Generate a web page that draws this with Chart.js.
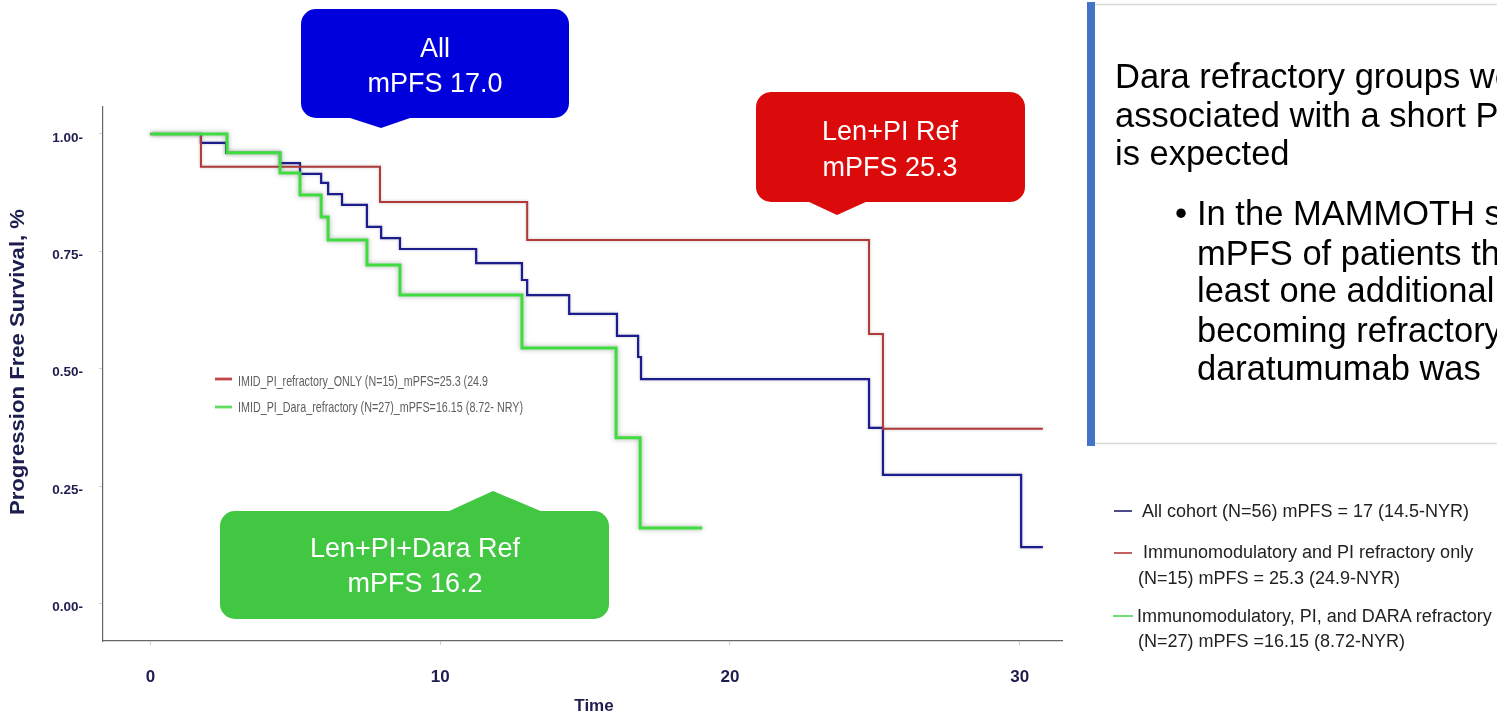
<!DOCTYPE html>
<html>
<head>
<meta charset="utf-8">
<script src="https://cdn.jsdelivr.net/npm/chart.js@4.4.1/dist/chart.umd.min.js"></script>
<style>
  html, body { margin: 0; padding: 0; width: 1497px; height: 714px; overflow: hidden; background: #fff; }
  #wrap { position: absolute; left: 0; top: 0; width: 1080px; height: 714px; }
  #ann { position: absolute; left: 0; top: 0; }
</style>
</head>
<body>
<div id="wrap"><canvas id="km" width="1080" height="714"></canvas></div>

<svg id="ann" width="1497" height="714" xmlns="http://www.w3.org/2000/svg">
  <defs>
    <filter id="soft" x="-5%" y="-20%" width="110%" height="140%">
      <feGaussianBlur stdDeviation="0.45"/>
    </filter>
    <filter id="glow" x="-20%" y="-100%" width="140%" height="300%">
      <feGaussianBlur stdDeviation="1.2"/>
    </filter>
  </defs>

  <!-- axis titles -->
  <g font-family="Liberation Sans, Arial, sans-serif" font-weight="bold" fill="#1d1d4f" text-anchor="middle">
    <text transform="translate(24,362) rotate(-90)" font-size="20" textLength="306" lengthAdjust="spacingAndGlyphs">Progression Free Survival, %</text>
    <text x="594" y="711" font-size="17">Time</text>
  </g>

  <!-- callouts -->
  <g font-family="Liberation Sans, Arial, sans-serif" font-size="27" fill="#ffffff" text-anchor="middle">
    <rect x="301" y="9" width="268" height="109" rx="15" fill="#0000DC"/>
    <polygon points="347,117 413,117 381,128" fill="#0000DC"/>
    <text x="435" y="57">All</text>
    <text x="435" y="92">mPFS 17.0</text>

    <rect x="756" y="92" width="269" height="110" rx="15" fill="#DB0B0B"/>
    <polygon points="807,201 868,201 837,215" fill="#DB0B0B"/>
    <text x="890" y="140">Len+PI Ref</text>
    <text x="890" y="176">mPFS 25.3</text>

    <rect x="220" y="511" width="389" height="108" rx="15" fill="#41C742"/>
    <polygon points="447,512 543,512 493,491" fill="#41C742"/>
    <text x="415" y="557">Len+PI+Dara Ref</text>
    <text x="415" y="592">mPFS 16.2</text>
  </g>

  <!-- in-plot legend -->
  <g>
    <line x1="215" y1="379" x2="232" y2="379" stroke="#bbbbbb" stroke-width="5" filter="url(#glow)"/>
    <line x1="215" y1="379" x2="232" y2="379" stroke="#c24444" stroke-width="2.8"/>
    <line x1="215" y1="407" x2="232" y2="407" stroke="#bbbbbb" stroke-width="5" filter="url(#glow)"/>
    <line x1="215" y1="407" x2="232" y2="407" stroke="#62dc62" stroke-width="2.8"/>
    <g font-family="Liberation Sans Narrow, Arial Narrow, Liberation Sans, sans-serif" font-size="15" fill="#5e5e5e" filter="url(#soft)">
      <text x="238" y="386" textLength="250" lengthAdjust="spacingAndGlyphs">IMID_PI_refractory_ONLY (N=15)_mPFS=25.3 (24.9</text>
      <text x="238" y="412" textLength="285" lengthAdjust="spacingAndGlyphs">IMID_PI_Dara_refractory (N=27)_mPFS=16.15 (8.72- NRY)</text>
    </g>
  </g>

  <!-- side panel -->
  <rect x="1087" y="2" width="8" height="444" fill="#4472C4"/>
  <line x1="1095" y1="4.5" x2="1497" y2="4.5" stroke="#d9d9d9" stroke-width="1.5"/>
  <line x1="1095" y1="443.5" x2="1497" y2="443.5" stroke="#d9d9d9" stroke-width="1.5"/>
  <g font-family="Liberation Sans, Arial, sans-serif" font-size="34.5" fill="#000000">
    <text x="1115" y="88">Dara refractory groups were</text>
    <text x="1115" y="127">associated with a short PFS, as</text>
    <text x="1115" y="165">is expected</text>
    <text x="1175" y="225">•</text>
    <text x="1197" y="225">In the MAMMOTH study, the</text>
    <text x="1197" y="265">mPFS of patients that had</text>
    <text x="1197" y="302">least one additional line</text>
    <text x="1197" y="342">becoming refractory to</text>
    <text x="1197" y="380">daratumumab was</text>
  </g>

  <!-- side legend -->
  <g font-family="Liberation Sans, Arial, sans-serif" font-size="18" fill="#222222">
    <line x1="1114" y1="511" x2="1132" y2="511" stroke="#1f1f6e" stroke-width="1.6"/>
    <text x="1142" y="517">All cohort (N=56) mPFS = 17 (14.5-NYR)</text>
    <line x1="1114" y1="553" x2="1132" y2="553" stroke="#b33a3a" stroke-width="1.6"/>
    <text x="1143" y="558">Immunomodulatory and PI refractory only</text>
    <text x="1138" y="584">(N=15) mPFS = 25.3 (24.9-NYR)</text>
    <line x1="1113" y1="616" x2="1133" y2="616" stroke="#4cd64c" stroke-width="1.6"/>
    <text x="1137" y="622">Immunomodulatory, PI, and DARA refractory</text>
    <text x="1138" y="647">(N=27) mPFS =16.15 (8.72-NYR)</text>
  </g>
</svg>

<script>
// Kaplan-Meier step points (time in months, survival fraction)
const allTimes = [0, 1.74, 2.61, 4.47, 5.16, 5.89, 6.13, 6.61, 7.47, 7.96, 8.61, 11.24, 12.82, 13.0, 14.45, 16.1, 16.83, 16.93, 24.8, 25.28, 30.05, 30.8];
const allSurv  = [1, 0.981, 0.960, 0.938, 0.915, 0.896, 0.872, 0.849, 0.802, 0.778, 0.755, 0.725, 0.689, 0.657, 0.617, 0.570, 0.525, 0.478, 0.374, 0.274, 0.120, 0.120];

const imidPiTimes = [0, 1.74, 7.92, 13.0, 24.8, 25.28, 30.8];
const imidPiSurv  = [1, 0.930, 0.855, 0.774, 0.574, 0.372, 0.372];

const daraTimes = [0, 2.64, 4.47, 5.16, 5.89, 6.13, 7.47, 8.61, 12.82, 16.07, 16.9, 19.04];
const daraSurv  = [1, 0.960, 0.917, 0.870, 0.823, 0.774, 0.721, 0.657, 0.544, 0.353, 0.161, 0.161];

const xTicks = [0, 10, 20, 30];
const yTicks = [0, 0.25, 0.5, 0.75, 1];

const toPoints = (ts, ss) => ts.map((t, i) => ({ x: t, y: ss[i] }));

const axisText = '#1d1d4f';
const boldFont = (size) => ({ family: 'Liberation Sans, Arial, sans-serif', size: size, weight: 'bold' });

// soft halo drawn behind each curve
const haloPlugin = {
  id: 'halo',
  beforeDatasetDraw(chart, args) {
    const ds = chart.data.datasets[args.index];
    const c = chart.ctx;
    c.save();
    c.shadowColor = ds.haloColor;
    c.shadowBlur = ds.haloBlur;
  },
  afterDatasetDraw(chart) {
    chart.ctx.restore();
  }
};

new Chart(document.getElementById('km'), {
  type: 'line',
  data: {
    datasets: [
      {
        label: 'IMID_PI_Dara_refractory',
        data: toPoints(daraTimes, daraSurv),
        borderColor: '#3fdc3f',
        borderWidth: 3,
        stepped: true,
        order: 0,
        haloColor: 'rgba(80,100,80,0.55)',
        haloBlur: 5
      },
      {
        label: 'IMID_PI_refractory_ONLY',
        data: toPoints(imidPiTimes, imidPiSurv),
        borderColor: '#b03a3a',
        borderWidth: 2,
        stepped: true,
        order: 1,
        haloColor: 'rgba(120,100,100,0.4)',
        haloBlur: 3
      },
      {
        label: 'All cohort',
        data: toPoints(allTimes, allSurv),
        borderColor: '#1c1c8c',
        borderWidth: 2.2,
        stepped: true,
        order: 2,
        haloColor: 'rgba(100,100,140,0.4)',
        haloBlur: 3
      }
    ]
  },
  options: {
    responsive: false,
    animation: false,
    layout: { padding: { top: 107, right: 18, left: 0, bottom: 0 } },
    plugins: { legend: { display: false }, tooltip: { enabled: false } },
    elements: { point: { radius: 0 }, line: { tension: 0, fill: false } },
    scales: {
      x: {
        type: 'linear',
        min: -1.64,
        max: 31.46,
        afterBuildTicks: (s) => { s.ticks = xTicks.map(v => ({ value: v })); },
        afterFit: (s) => { s.height = 73; },
        border: { display: true, color: '#666666', width: 1.2 },
        grid: { display: true, drawOnChartArea: false, drawTicks: true, tickLength: 4, color: '#d0d0d0' },
        ticks: {
          padding: 22,
          color: axisText,
          font: boldFont(17),
          maxRotation: 0,
          autoSkip: false,
          callback: (v) => String(v)
        },
        title: { display: false }
      },
      y: {
        type: 'linear',
        min: -0.0799,
        max: 1.0575,
        afterBuildTicks: (s) => { s.ticks = yTicks.map(v => ({ value: v })); },
        afterFit: (s) => { s.width = 103; },
        border: { display: true, color: '#666666', width: 1.2 },
        grid: { display: true, drawOnChartArea: false, drawTicks: true, tickLength: 4, color: '#d0d0d0' },
        ticks: {
          padding: 16,
          labelOffset: 4,
          color: axisText,
          font: boldFont(13.5),
          autoSkip: false,
          callback: (v) => v.toFixed(2) + '-'
        },
        title: { display: false }
      }
    }
  },
  plugins: [haloPlugin]
});
</script>
</body>
</html>
